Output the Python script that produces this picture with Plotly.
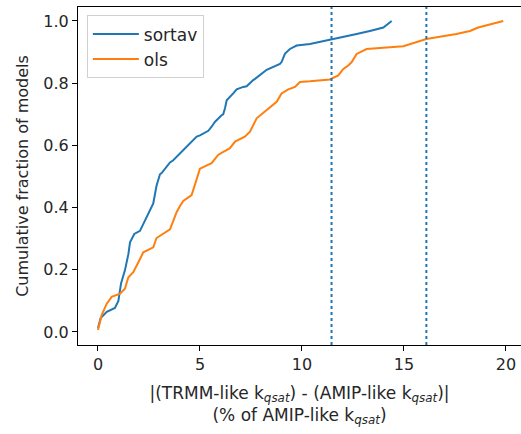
import plotly.graph_objects as go

# sortav cumulative curve (traced)
sortav_x = [0.0, 0.13, 0.43, 0.83, 1.0, 1.13, 1.32, 1.49, 1.57, 1.78, 2.06, 2.3, 2.47, 2.71,
            2.87, 3.04, 3.12, 3.53, 3.69, 4.26, 4.51, 4.84, 5.0, 5.41, 5.57, 5.74, 6.06, 6.14,
            6.23, 6.31, 6.63, 6.8, 7.12, 7.29, 7.61, 7.7, 8.27, 8.76, 8.92, 9.0, 9.17, 9.41,
            9.74, 10.39, 11.45, 12.68, 13.33, 13.99, 14.4]
sortav_y = [0.013, 0.045, 0.065, 0.077, 0.10, 0.156, 0.198, 0.25, 0.288, 0.315, 0.325, 0.357,
            0.38, 0.413, 0.47, 0.507, 0.511, 0.545, 0.552, 0.588, 0.607, 0.628, 0.632, 0.647,
            0.66, 0.676, 0.697, 0.70, 0.72, 0.745, 0.767, 0.78, 0.788, 0.79, 0.81, 0.814, 0.843,
            0.857, 0.862, 0.868, 0.895, 0.91, 0.921, 0.926, 0.94, 0.958, 0.968, 0.979, 1.0]

# ols cumulative curve (traced)
ols_x = [0.0, 0.18, 0.43, 0.67, 1.08, 1.32, 1.49, 1.73, 1.98, 2.22, 2.71, 2.87, 3.53, 3.77,
         3.86, 4.02, 4.18, 4.59, 4.75, 4.84, 5.0, 5.57, 5.9, 6.47, 6.72, 7.2, 7.45, 7.78, 8.27,
         8.76, 9.0, 9.33, 9.66, 9.9, 10.39, 11.37, 11.78, 12.03, 12.27, 12.44, 12.68, 13.17,
         14.97, 16.1, 17.57, 18.24, 18.64, 19.87]
ols_y = [0.006, 0.054, 0.091, 0.113, 0.123, 0.139, 0.176, 0.192, 0.224, 0.256, 0.272, 0.302,
         0.33, 0.376, 0.386, 0.405, 0.421, 0.44, 0.474, 0.495, 0.525, 0.543, 0.57, 0.591, 0.612,
         0.628, 0.644, 0.687, 0.713, 0.74, 0.767, 0.78, 0.788, 0.804, 0.806, 0.812, 0.825,
         0.846, 0.857, 0.868, 0.894, 0.91, 0.919, 0.942, 0.958, 0.968, 0.979, 1.0]

vlines = [11.45, 16.1]

BLUE = "#1f77b4"
ORANGE = "#ff7f0e"
FONT = "DejaVu Sans"
TXT = "#262626"

fig = go.Figure()
fig.add_trace(go.Scatter(x=sortav_x, y=sortav_y, mode="lines", name="sortav",
                         line=dict(color=BLUE, width=2)))
fig.add_trace(go.Scatter(x=ols_x, y=ols_y, mode="lines", name="ols",
                         line=dict(color=ORANGE, width=2)))
for v in vlines:
    fig.add_vline(x=v, line=dict(color=BLUE, width=2, dash="dot"))

fig.update_layout(
    width=521, height=434,
    margin=dict(l=78, r=0, t=7, b=89),
    paper_bgcolor="white", plot_bgcolor="white",
    font=dict(family=FONT, size=16, color=TXT),
    showlegend=True,
    legend=dict(x=0.02, y=0.975, xanchor="left", yanchor="top",
                bgcolor="white", bordercolor="#d0d0d0", borderwidth=1,
                font=dict(family=FONT, size=17, color=TXT),
                itemwidth=46),
)
fig.update_xaxes(range=[-0.98, 20.74], tickvals=[0, 5, 10, 15, 20],
                 automargin=False,
                 showgrid=False, zeroline=False,
                 showline=True, linecolor="black", linewidth=1, mirror=True,
                 ticks="outside", ticklen=5, tickcolor="black",
                 tickfont=dict(family=FONT, size=16, color=TXT),
                 title=dict(text="|(TRMM-like k<sub><i>qsat</i></sub>) - (AMIP-like k<sub><i>qsat</i></sub>)|<br>(% of AMIP-like k<sub><i>qsat</i></sub>)",
                            font=dict(family=FONT, size=17, color=TXT), standoff=13))
fig.update_yaxes(range=[-0.042, 1.045], tickvals=[0, 0.2, 0.4, 0.6, 0.8, 1.0],
                 ticktext=["0.0", "0.2", "0.4", "0.6", "0.8", "1.0"],
                 automargin=False,
                 showgrid=False, zeroline=False,
                 showline=True, linecolor="black", linewidth=1, mirror=False,
                 ticks="outside", ticklen=5, tickcolor="black",
                 tickfont=dict(family=FONT, size=16, color=TXT),
                 title=dict(text="Cumulative fraction of models",
                            font=dict(family=FONT, size=16, color=TXT), standoff=10))

fig.write_html("out.html", config={"displayModeBar": False},
               post_script="document.body.style.margin='0';document.body.style.overflow='hidden';")
